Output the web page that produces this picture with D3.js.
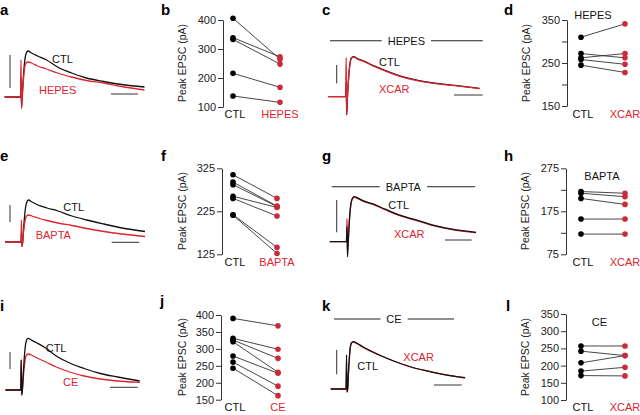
<!DOCTYPE html>
<meta charset="utf-8">
<title>EPSC panels</title>
<head>
  <script src="https://d3js.org/d3.v7.min.js"></script>
  <style>
    body { margin: 0; background: #fff; }
    svg text { font-family: "Liberation Sans", Arial, Helvetica, sans-serif; }
  </style>
</head>
<body>
  <div id="fig"></div>
  <script>
    // ---- trace data: shared time points (ms from stimulus), amplitudes in pA (up = inward) ----
    var T = [-17, -1, -0.5, 0, 0.7, 1.5, 3, 4.5, 6.5, 10, 16, 25, 36, 50, 65, 82, 100, 123];

    var ctlA   = [0, 0, 20, -11, 0, 14, 34, 43, 46, 44, 41, 37, 30, 24, 19, 15.5, 12.5, 10];
    var hepesA = [0, 0, 37, -11, 0, 12, 28, 34, 35, 34, 31, 28, 24, 20, 16.5, 14, 10.5, 7];

    var ctlC   = [0, 0, 15, -18, 0, 15, 33, 39, 40, 38, 35.5, 31, 26, 20.5, 16.5, 13.5, 11.3, 8.3];
    var xcarC  = [0, 0, 39, -18, 0, 14, 32, 38.5, 39.5, 37.5, 35, 30.5, 25.5, 20, 16, 13, 11, 8];

    var ctlE   = [0, 0, 10, -4.5, 0, 12, 30, 39, 42, 40, 37, 34, 31, 26, 22, 18, 14, 10.5];
    var baptaE = [0, 0, 22, -4.5, 0, 10, 21, 26, 27, 26, 24, 21.5, 19, 16.5, 13.5, 10.5, 8, 5.5];

    var ctlG   = [0, 0, 15, -15, 0, 16, 36, 43, 45, 43.5, 40.5, 37.5, 32.5, 26.5, 22, 16.5, 12.5, 9.4];
    var xcarG  = [0, 0, 23, -10, 0, 16, 35, 42.5, 44.5, 43, 40, 37, 32, 26, 21.5, 16, 12, 9];

    var ctlI   = [0, 0, 30, -5, 0, 14, 36, 48, 51.7, 50, 47, 42, 34, 27, 21.5, 16.5, 13, 9];
    var ceI    = [0, 0, 30, -5, 0, 10, 26, 34, 36, 35, 32, 28, 23, 18, 14, 11, 9, 7.7];

    var ctlK   = [0, 0, 34, -3, 0, 16, 38, 46, 47.3, 46, 42.5, 38, 33, 27.5, 22.5, 18.3, 14.7, 11.3];
    var xcarK  = [0, 0, 20, -3, 0, 15, 37, 45.5, 47, 45.5, 42, 37.5, 33, 27.5, 22.5, 18.3, 14.7, 11];

    // ---- paired peak EPSC (pA), same cell index in both arrays ----
    var peakB_ctl   = [406, 339, 333, 216, 138];
    var peakB_hepes = [265, 273, 248, 168, 116];

    var peakD_ctl   = [310, 272, 262, 258, 245];
    var peakD_xcar  = [341, 262, 272, 247, 228];

    var peakF_ctl   = [310, 293, 287, 260, 255, 217, 216];
    var peakF_bapta = [255, 237, 236, 234, 214, 141, 127];

    var peakH_ctl   = [221, 217, 205, 157, 122];
    var peakH_xcar  = [217, 209, 191, 157, 122];

    var peakJ_ctl   = [390, 331, 326, 321, 279, 261, 243];
    var peakJ_ce    = [368, 299, 272, 231, 228, 190, 162];

    var peakL_ctl   = [257, 242, 208, 184, 171];
    var peakL_xcar  = [257, 229, 229, 195, 170];

    var BLACK = "#111";
    var RED = "#dc2430";
    var DOT_RED = "#cc2a3a";

    var svg = d3.select("#fig").append("svg")
      .attr("width", 640).attr("height", 415)
      .style("display", "block");

    function letter(t, x, y) {
      svg.append("text").attr("x", x).attr("y", y)
        .attr("font-size", 15).attr("font-weight", "bold").attr("fill", "#000")
        .text(t);
    }

    // trace panels
    var tracePanels = [
      { l: "a", lx: 0, ly: 15, x0: 21.5, sx: 1, base: 97,
        series: [[ctlA, BLACK], [hepesA, RED]],
        vbar: [10, 55, 88], hbar: [111, 138, 94],
        labels: [["CTL", 52, 62.5, BLACK], ["HEPES", 39, 94, RED]] },
      { l: "c", lx: 322, ly: 15, x0: 346.7, sx: 1.08, base: 96.7,
        series: [[ctlC, BLACK], [xcarC, RED]],
        vbar: [336.7, 65, 83.3], hbar: [454, 482.7, 95],
        title: ["HEPES", 330, 482.7, 40.7],
        labels: [["CTL", 379, 66, BLACK], ["XCAR", 379, 92.7, RED]] },
      { l: "e", lx: 0, ly: 161, x0: 22, sx: 1, base: 242,
        series: [[ctlE, BLACK], [baptaE, RED]],
        vbar: [10, 205, 222], hbar: [111.7, 139.3, 242.3],
        labels: [["CTL", 63.3, 211, BLACK], ["BAPTA", 35.7, 239, RED]] },
      { l: "g", lx: 322, ly: 161, x0: 347.5, sx: 1.045, base: 241.7,
        series: [[xcarG, RED], [ctlG, BLACK]],
        vbar: [336.7, 200, 232.3], hbar: [445, 471.7, 240],
        title: ["BAPTA", 331.7, 475, 186.7],
        labels: [["CTL", 388.3, 209, BLACK], ["XCAR", 394, 237.7, RED]] },
      { l: "i", lx: 0, ly: 311, x0: 21.7, sx: 0.96, base: 390,
        series: [[ceI, RED], [ctlI, BLACK]],
        vbar: [10, 352, 369], hbar: [110, 137.7, 387.3],
        labels: [["CTL", 45.7, 351.5, BLACK], ["CE", 63, 385.7, RED]] },
      { l: "k", lx: 322, ly: 311, x0: 347, sx: 0.96, base: 389,
        series: [[xcarK, RED], [ctlK, BLACK]],
        vbar: [336.7, 350, 374.3], hbar: [434, 461.7, 385],
        title: ["CE", 334, 454, 319],
        labels: [["CTL", 357.3, 370, BLACK], ["XCAR", 403.3, 361, RED]] }
    ];

    tracePanels.forEach(function(p) {
      letter(p.l, p.lx, p.ly);
      var x = d3.scaleLinear().domain([0, 100]).range([p.x0, p.x0 + 100 * p.sx]);
      var y = d3.scaleLinear().domain([0, 50]).range([p.base, p.base - 50]);
      var line = d3.line()
        .x(function(d, i) { return x(T[i]); })
        .y(function(d) { return y(d); })
        .curve(d3.curveMonotoneX);
      p.series.forEach(function(s) {
        svg.append("path").datum(s[0])
          .attr("d", line)
          .attr("fill", "none")
          .attr("stroke", s[1])
          .attr("stroke-width", 1.3)
          .attr("stroke-linejoin", "round");
      });
      // scale bars
      svg.append("line").attr("x1", p.vbar[0]).attr("x2", p.vbar[0])
        .attr("y1", p.vbar[1]).attr("y2", p.vbar[2])
        .attr("stroke", "#333").attr("stroke-width", 1);
      svg.append("line").attr("x1", p.hbar[0]).attr("x2", p.hbar[1])
        .attr("y1", p.hbar[2]).attr("y2", p.hbar[2])
        .attr("stroke", "#333").attr("stroke-width", 1);
      p.labels.forEach(function(t) {
        svg.append("text").attr("x", t[1]).attr("y", t[2])
          .attr("font-size", 11).attr("fill", t[3]).text(t[0]);
      });
      if (p.title) {
        var tt = p.title;
        var cx = (tt[1] + tt[2]) / 2;
        var txt = svg.append("text").attr("x", cx).attr("y", tt[3] + 4)
          .attr("text-anchor", "middle").attr("font-size", 11).attr("fill", "#111")
          .text(tt[0]);
        var w = txt.node().getComputedTextLength();
        svg.append("line").attr("x1", tt[1]).attr("x2", cx - w / 2 - 6)
          .attr("y1", tt[3]).attr("y2", tt[3]).attr("stroke", "#222").attr("stroke-width", 1.1);
        svg.append("line").attr("x1", cx + w / 2 + 6).attr("x2", tt[2])
          .attr("y1", tt[3]).attr("y2", tt[3]).attr("stroke", "#222").attr("stroke-width", 1.1);
      }
    });

    // paired scatter panels
    var scatterPanels = [
      { l: "b", lx: 161, ly: 15, cond: "HEPES", ctl: peakB_ctl, trt: peakB_hepes,
        ax: 223, dom: [100, 400], rng: [107, 20], ticks: [100, 200, 300, 400], lab: [100, 200, 300, 400],
        cx: [233, 280], xl: 118, ylab: [186, 63] },
      { l: "d", lx: 504, ly: 15, cond: "XCAR", ctl: peakD_ctl, trt: peakD_xcar,
        ax: 567, dom: [150, 350], rng: [106, 20], ticks: [150, 200, 250, 300, 350], lab: [150, 250, 350],
        cx: [581, 625], xl: 118, ylab: [530, 63], title: ["HEPES", 593, 19] },
      { l: "f", lx: 161, ly: 161, cond: "BAPTA", ctl: peakF_ctl, trt: peakF_bapta,
        ax: 222, dom: [125, 325], rng: [254.3, 168.3], ticks: [125, 225, 325], lab: [125, 225, 325],
        cx: [233, 277], xl: 266, ylab: [186, 211] },
      { l: "h", lx: 504, ly: 161, cond: "XCAR", ctl: peakH_ctl, trt: peakH_xcar,
        ax: 566, dom: [75, 275], rng: [254.3, 168.3], ticks: [75, 125, 175, 225, 275], lab: [75, 175, 275],
        cx: [581, 625], xl: 266, ylab: [529, 211], title: ["BAPTA", 602, 180] },
      { l: "j", lx: 160, ly: 306, cond: "CE", ctl: peakJ_ctl, trt: peakJ_ce,
        ax: 221, dom: [150, 400], rng: [399.7, 315], ticks: [150, 200, 250, 300, 350, 400], lab: [150, 200, 250, 300, 350, 400],
        cx: [233, 278], xl: 411, ylab: [186, 357] },
      { l: "l", lx: 506, ly: 311, cond: "XCAR", ctl: peakL_ctl, trt: peakL_xcar,
        ax: 566, dom: [100, 350], rng: [400, 314], ticks: [100, 150, 200, 250, 300, 350], lab: [100, 150, 200, 250, 300, 350],
        cx: [581, 625], xl: 411, ylab: [529, 357], title: ["CE", 599.5, 325.7] }
    ];

    scatterPanels.forEach(function(p) {
      letter(p.l, p.lx, p.ly);
      var y = d3.scaleLinear().domain(p.dom).range(p.rng);
      var x = d3.scalePoint().domain(["CTL", p.cond]).range(p.cx);

      var axis = d3.axisLeft(y)
        .tickValues(p.ticks)
        .tickSize(5).tickSizeOuter(0).tickPadding(2)
        .tickFormat(function(d) { return p.lab.indexOf(d) >= 0 ? d : ""; });
      var ga = svg.append("g").attr("transform", "translate(" + p.ax + ",0)").call(axis);
      ga.select(".domain").attr("stroke", "#333");
      ga.selectAll(".tick line").attr("stroke", "#333");
      ga.selectAll(".tick text").attr("font-size", 11).attr("fill", "#222")
        .attr("font-family", "Liberation Sans, Arial, sans-serif");

      var pairs = p.ctl.map(function(v, i) { return [v, p.trt[i]]; });
      svg.append("g").selectAll("line").data(pairs).enter().append("line")
        .attr("x1", x("CTL")).attr("x2", x(p.cond))
        .attr("y1", function(d) { return y(d[0]); })
        .attr("y2", function(d) { return y(d[1]); })
        .attr("stroke", "#333").attr("stroke-width", 0.9);
      svg.append("g").selectAll("circle").data(p.ctl).enter().append("circle")
        .attr("cx", x("CTL")).attr("cy", function(d) { return y(d); })
        .attr("r", 2.8).attr("fill", "#000");
      svg.append("g").selectAll("circle").data(p.trt).enter().append("circle")
        .attr("cx", x(p.cond)).attr("cy", function(d) { return y(d); })
        .attr("r", 2.8).attr("fill", DOT_RED);

      [["CTL", "#111"], [p.cond, RED]].forEach(function(c) {
        svg.append("text").attr("x", x(c[0]) + (c[0] === "CTL" ? 2 : 0)).attr("y", p.xl)
          .attr("text-anchor", "middle").attr("font-size", 11).attr("fill", c[1])
          .text(c[0]);
      });

      svg.append("text")
        .attr("transform", "translate(" + p.ylab[0] + "," + p.ylab[1] + ") rotate(-90)")
        .attr("text-anchor", "middle").attr("font-size", 10.5).attr("fill", "#222")
        .text("Peak EPSC (pA)");

      if (p.title) {
        svg.append("text").attr("x", p.title[1]).attr("y", p.title[2])
          .attr("text-anchor", "middle").attr("font-size", 11).attr("fill", "#111")
          .text(p.title[0]);
      }
    });
  </script>
</body>
